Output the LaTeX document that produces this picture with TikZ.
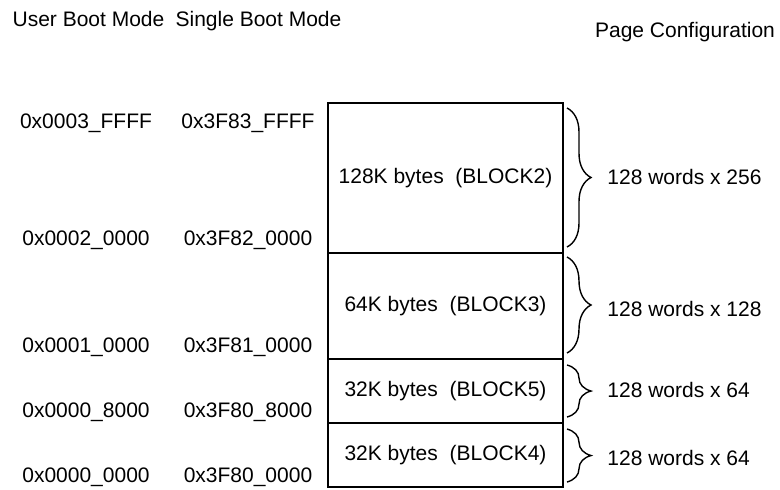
\documentclass[tikz,border=0pt]{standalone}
\usepackage{fontspec}
\setmainfont{Liberation Sans}
\usetikzlibrary{decorations.pathreplacing}
\begin{document}
\begin{tikzpicture}[x=0.5pt,y=-0.5pt,
  every node/.style={font=\fontsize{10.5}{12}\selectfont},
  blk/.style={draw, line width=0.9pt, minimum width=117.5pt, inner sep=0pt},
  addr/.style={inner sep=0pt, anchor=center},
  pg/.style={inner sep=0pt, anchor=west},
  hdr/.style={inner sep=0pt, anchor=base},
  brc/.style={decorate, decoration={brace, amplitude=12pt}, line width=0.7pt}]
\useasboundingbox (0,0) rectangle (780,489);
% headers
\node[hdr] (h1) at (88.5,26.4) {User Boot Mode};
\node[hdr] (h2) at (258.5,26.4) {Single Boot Mode};
\node[hdr] (h3) at (685,37) {Page Configuration};
% blocks
\node[blk, minimum height=75pt] (b2) at (445.5,178) {128K bytes\ \ (BLOCK2)};
\node[blk, minimum height=53pt] (b3) at (445.5,306) {64K bytes\ \ (BLOCK3)};
\node[blk, minimum height=32pt] (b5) at (445.5,391) {32K bytes\ \ (BLOCK5)};
\node[blk, minimum height=32pt] (b4) at (445.5,455) {32K bytes\ \ (BLOCK4)};
% addresses
\node[addr] (u1) at (86,123) {0x0003\_FFFF};
\node[addr] (u2) at (86,240) {0x0002\_0000};
\node[addr] (u3) at (86,347) {0x0001\_0000};
\node[addr] (u4) at (86,412) {0x0000\_8000};
\node[addr] (u5) at (86,477) {0x0000\_0000};
\node[addr] (s1) at (248,123) {0x3F83\_FFFF};
\node[addr] (s2) at (248,240) {0x3F82\_0000};
\node[addr] (s3) at (248,347) {0x3F81\_0000};
\node[addr] (s4) at (248,412) {0x3F80\_8000};
\node[addr] (s5) at (248,477) {0x3F80\_0000};
% braces
\coordinate (c2t) at (567,108); \coordinate (c2b) at (567,247);
\coordinate (c3t) at (567,257); \coordinate (c3b) at (567,353);
\coordinate (c5t) at (567,365); \coordinate (c5b) at (567,417);
\coordinate (c4t) at (567,429); \coordinate (c4b) at (567,482);
\draw[brc] (c2t) -- (c2b);
\draw[brc] (c3t) -- (c3b);
\draw[brc] (c5t) -- (c5b);
\draw[brc] (c4t) -- (c4b);
% page labels
\node[pg] (p2) at (607,177) {128 words x 256};
\node[pg] (p3) at (607,309) {128 words x 128};
\node[pg] (p5) at (607,390) {128 words x 64};
\node[pg] (p4) at (607,458) {128 words x 64};
\end{tikzpicture}
\end{document}
